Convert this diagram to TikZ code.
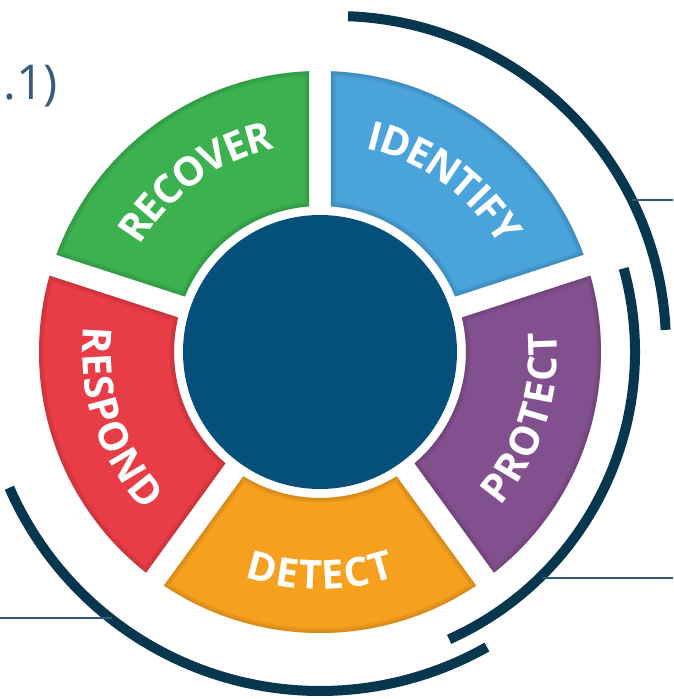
\documentclass[tikz,border=0pt]{standalone}
\usepackage{fontspec}
\setmainfont{Open Sans}
\usetikzlibrary{decorations.text}
\definecolor{recovc}{HTML}{3BB14F}
\definecolor{identc}{HTML}{4AA3DA}
\definecolor{protc}{HTML}{83508F}
\definecolor{detc}{HTML}{F6A01F}
\definecolor{respc}{HTML}{E83D46}
\definecolor{corec}{HTML}{04507A}
\definecolor{ringc}{HTML}{07364F}
\definecolor{thinc}{HTML}{2E5A7C}
\definecolor{labc}{HTML}{3A5C7C}
\def\ro{281}
\def\ri{146}
\def\ao{2.24}
\def\ai{4.32}
\newcommand\segpath[1]{({#1+\ao}:\ro) arc[start angle={#1+\ao}, end angle={#1+72-\ao}, radius=\ro] -- ({#1+72-\ai}:\ri) arc[start angle={#1+72-\ai}, end angle={#1+\ai}, radius=\ri] -- cycle}
\newcommand\wedgeseg[2]{%
  \fill[#2] \segpath{#1};
  \begin{scope}
    \clip \segpath{#1};
    \draw[#2!60!black, opacity=0.18, line width=9pt] \segpath{#1};
    \draw[#2!70!black, opacity=0.22, line width=4pt] \segpath{#1};
  \end{scope}}
\newcommand\segfont{\fontsize{40}{40}\selectfont\bfseries\color{white}}
\newcommand\segtext[3]{%
  \path[decorate, decoration={text along path, text align=center, raise=-14.3pt, text={|\segfont|#3}}] (#1:223) arc[start angle=#1, end angle=#2, radius=223];}
\begin{document}
\begin{tikzpicture}[x=1pt,y=1pt,
  ringarc/.style={draw=ringc, line width=10pt, line cap=butt},
  thinline/.style={draw=thinc, line width=1.3pt}]
\useasboundingbox (-320,-347) rectangle (353,352);
\fill[white] (-320,-347) rectangle (353,352);
% segments
\wedgeseg{18}{identc}
\wedgeseg{90}{recovc}
\wedgeseg{162}{respc}
\wedgeseg{234}{detc}
\wedgeseg{306}{protc}
% core
\fill[corec] (0,0) circle (137);
% labels
\segtext{186}{66}{RECOVER}
\segtext{114}{-6}{IDENTIFY}
\segtext{-78}{42}{PROTECT}
\segtext{-150}{-30}{DETECT}
\segtext{138}{258}{RESPOND}
% outer arcs
\coordinate (ca) at (16,6);
\draw[ringarc] ([shift={(ca)}]87.9:330) arc[start angle=87.9, end angle=2.8, radius=330];
\draw[ringarc] (15.4:315) arc[start angle=15.4, end angle=-65.8, radius=315];
\draw[ringarc] (203.6:339) arc[start angle=203.6, end angle=299.5, radius=339];
% thin lines
\coordinate (l1a) at (312,152);
\coordinate (l1b) at (353,152);
\coordinate (l2a) at (222,-226);
\coordinate (l2b) at (353,-226);
\coordinate (l3a) at (-208,-266);
\coordinate (l3b) at (-320,-266);
\draw[thinline] (l1a) -- (l1b);
\draw[thinline] (l2a) -- (l2b);
\draw[thinline] (l3a) -- (l3b);
% corner text
\node[anchor=base east, inner sep=0pt, text=labc, font=\fontsize{48}{48}\selectfont] (cap) at (-262,252) {.1)};
\end{tikzpicture}
\end{document}
